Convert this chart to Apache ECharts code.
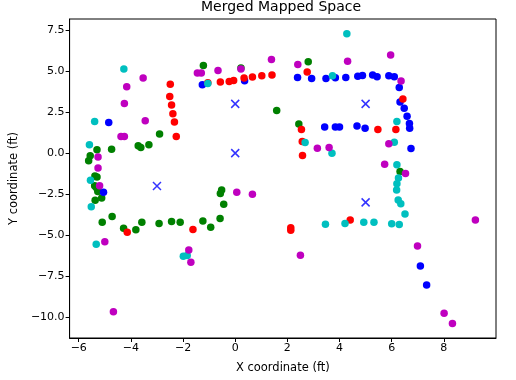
<!DOCTYPE html>
<html>
<head>
<meta charset="utf-8">
<script src="https://cdn.jsdelivr.net/npm/echarts@6/dist/echarts.min.js"></script>
<style>html,body{margin:0;padding:0;background:#fff;}#c{width:516px;height:380px;}</style>
</head>
<body>
<div id="c"></div>
<script>
const titleText = "Merged Mapped Space";
const xLabel = "X coordinate (ft)";
const yLabel = "Y coordinate (ft)";
const xTicks = [-6, -4, -2, 0, 2, 4, 6, 8];
const yTicks = [-10, -7.5, -5, -2.5, 0, 2.5, 5, 7.5];

const greenPts = [
  [-1.22,5.34],[0.22,5.18],[2.8,5.57],[1.59,2.60],[2.44,1.77],[-2.9,1.16],
  [-3.72,0.45],[-3.62,0.34],[-3.31,0.51],[-4.74,0.24],[-5.3,0.2],[-5.56,-0.16],
  [-5.62,-0.47],[-5.38,-1.4],[-5.3,-1.46],[-5.39,-1.98],[-5.33,-2.1],[-5.27,-2.34],
  [-5.12,-2.74],[-5.37,-2.87],[-4.72,-3.86],[-5.1,-4.21],[-4.28,-4.57],[-3.81,-4.66],
  [-3.58,-4.21],[-2.92,-4.29],[-2.44,-4.17],[-2.11,-4.21],[-1.24,-4.13],[-0.94,-4.51],
  [-0.58,-3.98],[-0.44,-3.11],[-0.52,-2.24],[-0.57,-2.46],[6.32,-1.12]
];
const bluePts = [
  [-1.26,4.17],[0.36,4.41],[2.39,4.61],[2.93,4.55],[3.48,4.55],[3.84,4.59],
  [4.24,4.61],[4.7,4.69],[4.88,4.73],[5.27,4.76],[5.44,4.65],[5.89,4.71],
  [6.1,4.65],[6.29,4.0],[6.32,3.11],[6.48,2.74],[6.59,2.25],[6.68,1.8],
  [6.69,1.52],[6.74,0.28],[3.43,1.59],[3.84,1.59],[4.0,1.59],[4.67,1.66],
  [4.98,1.52],[-4.85,1.87],[-5.05,-2.38],[7.1,-6.87],[7.34,-8.03]
];
const redPts = [
  [-2.49,4.2],[-2.51,3.45],[-2.44,2.93],[-2.39,2.4],[-2.33,1.9],[-2.26,1.01],
  [-1.05,4.29],[-0.57,4.33],[-0.23,4.37],[-0.06,4.43],[0.34,4.57],[0.66,4.63],
  [1.02,4.71],[1.41,4.76],[2.76,4.94],[6.43,3.29],[5.47,1.44],[6.16,1.44],
  [2.54,1.44],[2.57,0.71],[2.58,-0.14],[4.41,-4.07],[2.13,-4.55],[2.13,-4.7],
  [-1.62,-4.65],[-4.14,-4.82]
];
const cyanPts = [
  [4.28,7.27],[-4.27,5.13],[-1.05,4.24],[3.73,4.71],[-5.39,1.93],[6.2,1.93],
  [2.68,0.65],[3.71,0.0],[6.1,0.67],[-5.59,0.51],[-5.55,-1.65],[-5.52,-3.27],
  [6.2,-0.71],[6.26,-1.52],[6.2,-1.87],[6.19,-2.24],[6.25,-2.85],[6.35,-3.09],
  [6.51,-3.7],[3.46,-4.33],[4.21,-4.28],[4.93,-4.21],[5.32,-4.21],[6.0,-4.3],
  [6.29,-4.35],[-5.33,-5.55],[-1.99,-6.28],[-1.84,-6.24]
];
const magentaPts = [
  [-3.53,4.57],[-4.16,4.04],[-4.25,3.02],[-1.45,4.88],[-1.3,4.88],[-0.66,5.04],
  [0.22,5.12],[1.39,5.71],[2.4,5.40],[4.31,5.59],[5.96,5.98],[6.36,4.39],
  [-3.45,1.97],[-4.38,1.01],[-4.25,1.01],[-5.26,-0.24],[-5.26,-0.91],[-5.2,-1.98],
  [3.15,0.3],[3.6,0.34],[5.89,0.57],[5.73,-0.67],[6.53,-1.24],[0.06,-2.38],
  [0.66,-2.5],[9.21,-4.07],[6.99,-5.65],[8.01,-9.76],[8.33,-10.37],[-5.0,-5.39],
  [-1.78,-5.9],[-1.7,-6.65],[2.5,-6.22],[-4.67,-9.66]
];
const xMarks = [[0,3],[5,3],[0,0],[5,-3],[-3,-2]];

const FONT = "DejaVu Sans";
const fmtMinus = (v, d) => (v < 0 ? "\u2212" : "") + Math.abs(v).toFixed(d);

function dots(data, color, z) {
  return {
    type: "scatter", data: data, symbol: "circle", symbolSize: 7.5,
    itemStyle: { color: color, opacity: 1 }, z: z, silent: true, animation: false
  };
}

const chart = echarts.init(document.getElementById("c"), null, { renderer: "canvas" });
chart.setOption({
  animation: false,
  backgroundColor: "#ffffff",
  title: {
    text: titleText, left: 281, top: 0, padding: 0, textAlign: "center",
    textStyle: { fontFamily: FONT, fontSize: 14, fontWeight: "normal", color: "#000" }
  },
  grid: {
    left: 67, right: 20, top: 19, bottom: 42, show: true,
    borderColor: "#000", borderWidth: 1, backgroundColor: "transparent"
  },
  xAxis: {
    type: "value", min: -6.35, max: 10.0,
    name: xLabel, nameLocation: "middle", nameGap: 24,
    nameTextStyle: { fontFamily: FONT, fontSize: 11.5, color: "#000" },
    axisLine: { show: true, onZero: false, lineStyle: { color: "#000" } },
    axisTick: { show: true, length: 4, customValues: xTicks, lineStyle: { color: "#000" } },
    axisLabel: { customValues: xTicks, fontFamily: FONT, fontSize: 11, color: "#000", margin: 5,
      formatter: v => fmtMinus(v, 0) },
    splitLine: { show: false }
  },
  yAxis: {
    type: "value", min: -11.26, max: 8.17,
    name: yLabel, nameLocation: "middle", nameGap: 46, nameRotate: 90,
    nameTextStyle: { fontFamily: FONT, fontSize: 11.5, color: "#000" },
    axisLine: { show: true, onZero: false, lineStyle: { color: "#000" } },
    axisTick: { show: true, length: 4, customValues: yTicks, lineStyle: { color: "#000" } },
    axisLabel: { customValues: yTicks, fontFamily: FONT, fontSize: 11, color: "#000", margin: 5,
      formatter: v => fmtMinus(v, 1) },
    splitLine: { show: false }
  },
  series: [
    dots(greenPts, "#008000", 2),
    dots(bluePts, "#0000ff", 3),
    dots(redPts, "#ff0000", 4),
    dots(cyanPts, "#00bfbf", 5),
    dots(magentaPts, "#bf00bf", 6),
    {
      type: "scatter", data: xMarks, symbol: "path://M0,0L10,10M10,0L0,10", symbolSize: 8,
      itemStyle: { color: "none", borderColor: "#0000ff", borderWidth: 1.5 }, z: 7, silent: true
    }
  ]
});
</script>
</body>
</html>
